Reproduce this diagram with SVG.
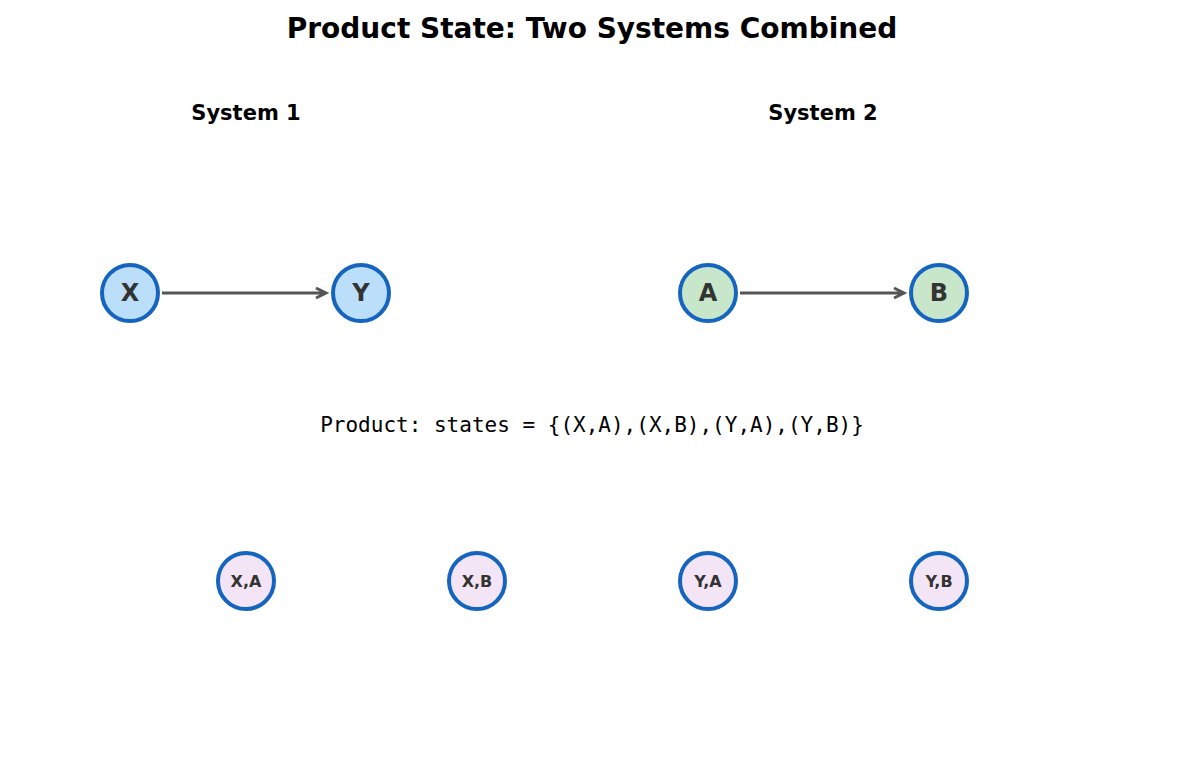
<svg xmlns="http://www.w3.org/2000/svg" width="1185" height="770" viewBox="0 0 1185 770">
<style>
.t{font-family:"DejaVu Sans",sans-serif;font-weight:bold;fill:#000}
.n circle{stroke:#1565c0;stroke-width:4}
.n text{font-family:"DejaVu Sans",sans-serif;font-weight:bold;fill:#333;text-anchor:middle;dominant-baseline:central}
.big text{font-size:24px}
.sm text{font-size:16px}
.e{stroke:#555;stroke-width:3;fill:none}
</style>
<rect width="1185" height="770" fill="#fff"/>
<text class="t" x="592" y="38" font-size="28" text-anchor="middle">Product State: Two Systems Combined</text>
<text class="t" x="246" y="120" font-size="21" text-anchor="middle">System 1</text>
<text class="t" x="823" y="120" font-size="21" text-anchor="middle">System 2</text>
<g id="connectors">
<path class="e" d="M162 293H326M316 288L326 293L316 298"/>
<path class="e" d="M740 293H904M894 288L904 293L894 298"/>
</g>
<g id="X" class="n big"><circle cx="130" cy="293" r="28" fill="#bbdefb"/><text x="130" y="293">X</text></g>
<g id="Y" class="n big"><circle cx="361" cy="293" r="28" fill="#bbdefb"/><text x="361" y="293">Y</text></g>
<g id="A" class="n big"><circle cx="708" cy="293" r="28" fill="#c8e6c9"/><text x="708" y="293">A</text></g>
<g id="B" class="n big"><circle cx="939" cy="293" r="28" fill="#c8e6c9"/><text x="939" y="293">B</text></g>
<text x="592" y="432" font-family="DejaVu Sans Mono,monospace" font-size="21" text-anchor="middle">Product: states = {(X,A),(X,B),(Y,A),(Y,B)}</text>
<g id="XA" class="n sm"><circle cx="246" cy="581" r="28" fill="#f3e5f5"/><text x="246" y="581">X,A</text></g>
<g id="XB" class="n sm"><circle cx="477" cy="581" r="28" fill="#f3e5f5"/><text x="477" y="581">X,B</text></g>
<g id="YA" class="n sm"><circle cx="708" cy="581" r="28" fill="#f3e5f5"/><text x="708" y="581">Y,A</text></g>
<g id="YB" class="n sm"><circle cx="939" cy="581" r="28" fill="#f3e5f5"/><text x="939" y="581">Y,B</text></g>
</svg>
